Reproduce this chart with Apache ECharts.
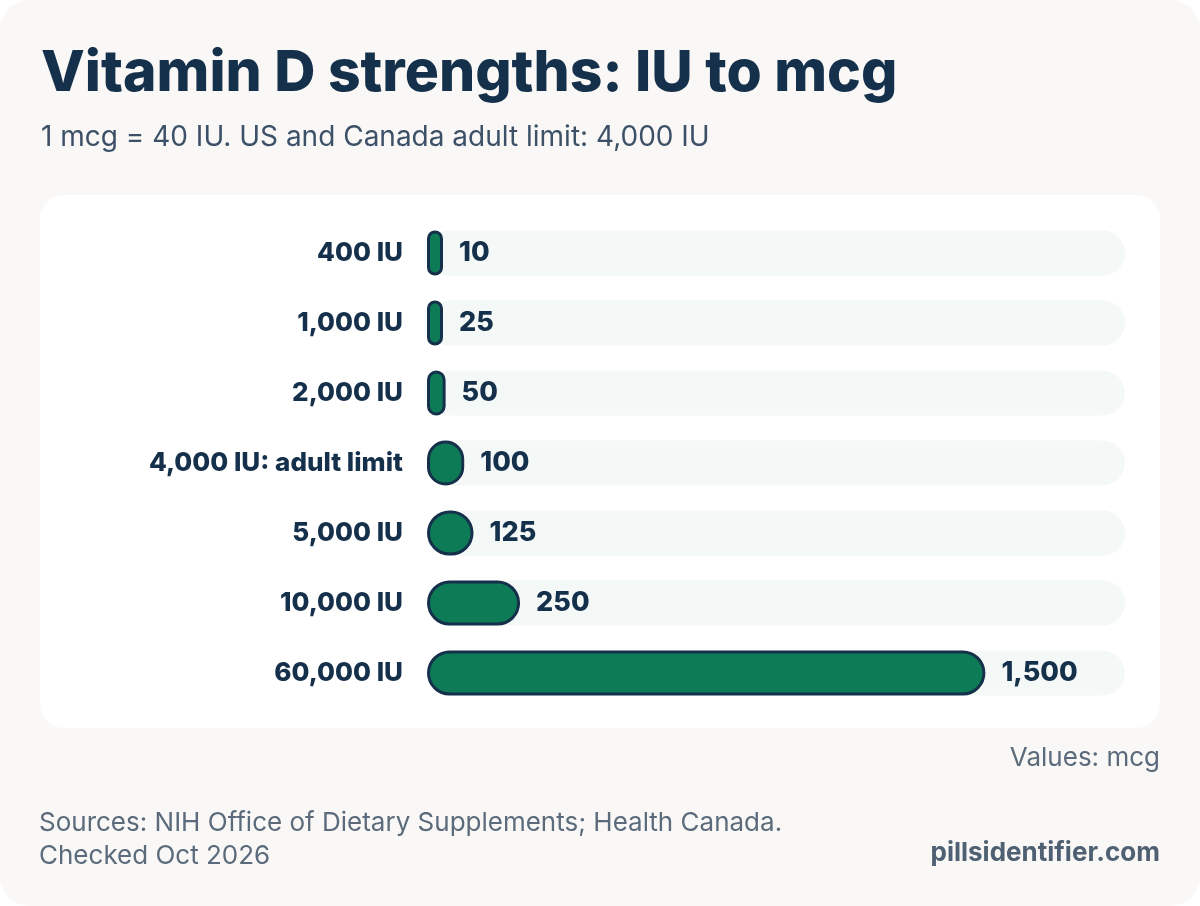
<!DOCTYPE html>
<html>
<head>
<meta charset="utf-8">
<script src="https://cdn.jsdelivr.net/npm/echarts@6/dist/echarts.min.js"></script>
<style>
  html, body { margin: 0; padding: 0; background: #ffffff; }
  #chart { width: 1200px; height: 906px; }
</style>
</head>
<body>
<div id="chart"></div>
<script>
const doses = ["400 IU", "1,000 IU", "2,000 IU", "4,000 IU: adult limit", "5,000 IU", "10,000 IU", "60,000 IU"];
const mcgValues = [10, 25, 50, 100, 125, 250, 1500];

const navy = "#15304a";
const green = "#0e7b57";
const font = "Inter";

const chart = echarts.init(document.getElementById("chart"));

chart.setOption({
  animation: false,
  backgroundColor: "transparent",
  title: {
    text: "Vitamin D strengths: IU to mcg",
    subtext: "1 mcg = 40 IU. US and Canada adult limit: 4,000 IU",
    left: 36,
    top: 40,
    itemGap: 22,
    textStyle: { fontFamily: font, fontSize: 57, fontWeight: 800, color: navy },
    subtextStyle: { fontFamily: font, fontSize: 28, color: "#3c5067" }
  },
  graphic: [
    {
      type: "rect", z: -10, silent: true,
      shape: { x: 0, y: 0, width: 1200, height: 906, r: 30 },
      style: { fill: "#f9f8f6" }
    },
    {
      type: "rect", z: -9, silent: true,
      shape: { x: 40, y: 195, width: 1120, height: 533, r: 24 },
      style: { fill: "#ffffff" }
    },
    {
      type: "text", right: 40, top: 745,
      style: { text: "Values: mcg", fontFamily: font, fontSize: 26, fill: "#5b6b7b" }
    },
    {
      type: "text", left: 39, top: 807,
      style: {
        text: "Sources: NIH Office of Dietary Supplements; Health Canada.\nChecked Oct 2026",
        fontFamily: font, fontSize: 26, lineHeight: 33, fill: "#5b6b7b"
      }
    },
    {
      type: "text", right: 40, top: 840,
      style: { text: "pillsidentifier.com", fontFamily: font, fontSize: 26, fontWeight: 700, fill: "#4f6072" }
    }
  ],
  grid: { left: 427, right: 75, top: 218, bottom: 198 },
  xAxis: {
    type: "value",
    min: 0,
    max: 1875,
    show: false
  },
  yAxis: {
    type: "category",
    data: doses,
    inverse: true,
    axisLine: { show: false },
    axisTick: { show: false },
    axisLabel: {
      margin: 24,
      fontFamily: font,
      fontSize: 26,
      fontWeight: 800,
      color: navy
    }
  },
  series: [
    {
      type: "bar",
      data: mcgValues,
      barWidth: 45,
      barMinHeight: 16,
      showBackground: true,
      backgroundStyle: { color: "#f4f8f7", borderRadius: 24 },
      itemStyle: {
        color: green,
        borderColor: navy,
        borderWidth: 3,
        borderRadius: 24
      },
      label: {
        show: true,
        position: "right",
        distance: 16,
        fontFamily: font,
        fontSize: 27,
        fontWeight: 800,
        color: navy,
        formatter: p => p.value.toLocaleString("en-US")
      }
    }
  ]
});
</script>
</body>
</html>
